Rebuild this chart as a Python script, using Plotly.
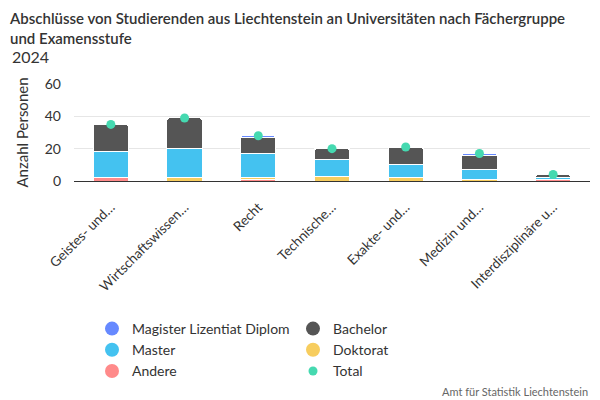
import plotly.graph_objects as go

categories = [
    "Geistes- und…",
    "Wirtschaftswissen…",
    "Recht",
    "Technische…",
    "Exakte- und…",
    "Medizin und…",
    "Interdisziplinäre u…",
]
andere = [2, 0, 1, 0, 0, 0, 1]
doktorat = [0, 2, 1, 3, 2, 1, 0]
master = [16, 18, 15, 10, 8, 6, 1]
bachelor = [17, 19, 10, 7, 11, 9, 2]
magister = [0, 0, 1, 0, 0, 1, 0]
total = [35, 39, 28, 20, 21, 17, 4]

FONT = "Lato"
colors = {
    "Magister Lizentiat Diplom": "#6689ff",
    "Bachelor": "#555555",
    "Master": "#44c2f0",
    "Doktorat": "#f7cd5e",
    "Andere": "#ff8a8a",
    "Total": "#45d9b0",
}

# the page body has an 8px margin, so the figure is drawn 8px in and down
OFF = 8
FW, FH = 600 - OFF, 400 - OFF
# plot area in page pixels
L, R, T, B = 74, 590, 84, 181
W, H = R - L, B - T


def px(x):
    return (x - L) / W


def py(y):
    return (B - y) / H


fig = go.Figure()

# stack from bottom to top
stack = [
    ("Andere", andere),
    ("Doktorat", doktorat),
    ("Master", master),
    ("Bachelor", bachelor),
    ("Magister Lizentiat Diplom", magister),
]
for name, vals in stack:
    fig.add_bar(
        x=categories, y=vals, name=name, showlegend=False,
        marker=dict(color=colors[name], line=dict(color="white", width=1)),
        hovertemplate="%{x}: %{y}<extra>" + name + "</extra>",
    )

fig.add_scatter(
    x=categories, y=total, mode="markers", name="Total", showlegend=False,
    marker=dict(color=colors["Total"], size=9),
)

# legend entries drawn as circles, in two columns
col1 = ["Magister Lizentiat Diplom", "Master", "Andere"]
col2 = ["Bachelor", "Doktorat", "Total"]
for legend, names in (("legend", col1), ("legend2", col2)):
    for name in names:
        fig.add_scatter(
            x=[None], y=[None], mode="markers", name=name, legend=legend,
            marker=dict(color=colors[name], size=9 if name == "Total" else 14),
        )

legend_style = dict(
    orientation="v", yanchor="top", y=py(313), xanchor="left",
    font=dict(family=FONT, size=14, color="#333333"),
    itemsizing="trace", bgcolor="rgba(0,0,0,0)", tracegroupgap=0,
    traceorder="normal",
)

fig.update_layout(
    width=FW, height=FH,
    margin=dict(l=L - OFF, r=600 - R, t=T - OFF, b=400 - B, autoexpand=False),
    barmode="stack", bargap=0.52, barcornerradius=3,
    paper_bgcolor="white", plot_bgcolor="white",
    font=dict(family=FONT, color="#333333"),
    title=dict(
        text="Abschlüsse von Studierenden aus Liechtenstein an Universitäten nach Fächergruppe<br>und Examensstufe",
        x=(10 - OFF) / FW, xref="container", xanchor="left",
        y=1 - (24 - OFF) / FH, yref="container", yanchor="top",
        font=dict(family=FONT, size=15, color="#333333", weight=600),
    ),
    legend=dict(legend_style, x=px(92)),
    legend2=dict(legend_style, x=px(293)),
    yaxis=dict(
        range=[0, 60], tickvals=[0, 20, 40, 60], showgrid=True,
        gridcolor="#e6e6e6", zeroline=False, ticks="", ticklabelstandoff=12,
        tickfont=dict(size=14, color="#333333"),
        title=dict(text="Anzahl Personen", font=dict(size=15, color="#333333"), standoff=12),
    ),
    xaxis=dict(
        tickangle=-45, showline=True, linecolor="#333333", linewidth=1,
        tickfont=dict(size=13.5, color="#333333"), ticks="", ticklabelstandoff=12,
    ),
    showlegend=True,
    annotations=[
        dict(
            text="2024", x=px(10), xref="paper", y=py(45), yref="paper",
            xanchor="left", yanchor="top", showarrow=False,
            font=dict(family=FONT, size=16, color="#333333"),
        ),
        dict(
            text="Amt für Statistik Liechtenstein", x=1, y=py(391),
            xref="paper", yref="paper", xanchor="right", yanchor="middle",
            showarrow=False, font=dict(family=FONT, size=11, color="#666666"),
        ),
    ],
)

fig.write_html("out.html")
